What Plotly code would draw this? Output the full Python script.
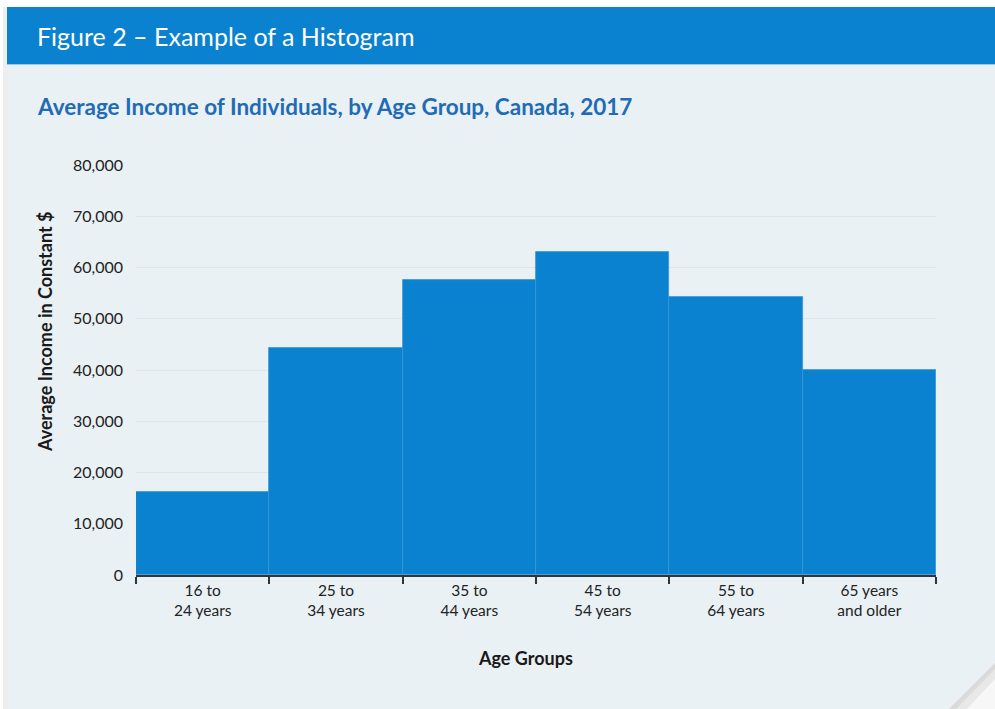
import plotly.graph_objects as go

# ---- data ----
age_groups = ["16 to<br>24 years", "25 to<br>34 years", "35 to<br>44 years",
              "45 to<br>54 years", "55 to<br>64 years", "65 years<br>and older"]
avg_income = [16200, 44200, 57500, 63000, 54300, 40000]
y_ticks = [0, 10000, 20000, 30000, 40000, 50000, 60000, 70000, 80000]

fig_title = "Figure 2 – Example of a Histogram"
chart_title = "Average Income of Individuals, by Age Group, Canada, 2017"
x_title = "Age Groups"
y_title = "Average Income in Constant $"

# ---- layout geometry (pixels) ----
W, H = 995, 709
L, R, T, B = 136, 936, 165, 575  # plot area in px
PW, PH = R - L, B - T


def px(x):
    return (x - L) / PW


def py(y):
    return (B - y) / PH


FONT = "Lato"
BLUE = "#0b82cf"
CARD = "#e9f1f5"

fig = go.Figure()
fig.add_trace(go.Bar(
    x=age_groups, y=avg_income,
    marker=dict(color=BLUE, line=dict(color="#3a95d6", width=0.8)),
    hoverinfo="x+y",
))

shapes = [
    # left shadow strip
    dict(type="rect", xref="paper", yref="paper", x0=px(3), x1=px(7), y0=py(709), y1=py(7),
         fillcolor="#eeeeee", line=dict(width=0), layer="below"),
    # card
    dict(type="rect", xref="paper", yref="paper", x0=px(7), x1=px(996), y0=py(710), y1=py(7),
         fillcolor=CARD, line=dict(width=0), layer="below"),
    # header band
    dict(type="rect", xref="paper", yref="paper", x0=px(7), x1=px(996), y0=py(64), y1=py(7),
         fillcolor=BLUE, line=dict(width=0), layer="below"),
    dict(type="line", xref="paper", yref="paper", x0=px(7), x1=px(996), y0=py(64.5), y1=py(64.5),
         line=dict(color="#9cc9e8", width=1), layer="below"),
    # page curl
    dict(type="path", xref="paper", yref="paper",
         path=f"M {px(948)} {py(710)} L {px(996)} {py(662)} L {px(996)} {py(710)} Z",
         fillcolor="#f7f7f7", line=dict(width=0), layer="above"),
    dict(type="path", xref="paper", yref="paper",
         path=f"M {px(948)} {py(710)} L {px(996)} {py(662)} L {px(996)} {py(678)} L {px(966)} {py(710)} Z",
         fillcolor="#e8e8e8", line=dict(width=0), layer="above"),
    dict(type="path", xref="paper", yref="paper",
         path=f"M {px(948)} {py(710)} L {px(996)} {py(662)} L {px(996)} {py(668)} L {px(955)} {py(710)} Z",
         fillcolor="#dadada", line=dict(width=0), layer="above"),
]

annotations = [
    dict(text=fig_title, xref="paper", yref="paper", x=px(35), y=py(36),
         xanchor="left", yanchor="middle", showarrow=False,
         font=dict(family=FONT, size=25, color="white")),
    dict(text=f"<b>{chart_title}</b>", xref="paper", yref="paper", x=px(35), y=py(106),
         xanchor="left", yanchor="middle", showarrow=False,
         font=dict(family=FONT, size=22.5, color="#1f6cb4")),
    dict(text=f"<b>{y_title}</b>", xref="paper", yref="paper", x=px(45), y=py(332),
         xanchor="center", yanchor="middle", showarrow=False, textangle=-90,
         font=dict(family=FONT, size=18, color="#1a1a1a")),
    dict(text=f"<b>{x_title}</b>", xref="paper", yref="paper", x=px(525), y=py(658),
         xanchor="center", yanchor="middle", showarrow=False,
         font=dict(family=FONT, size=18, color="#1a1a1a")),
]

fig.update_layout(
    width=W, height=H,
    margin=dict(l=L, r=W - R, t=T, b=H - B, pad=0),
    paper_bgcolor="white",
    plot_bgcolor="rgba(0,0,0,0)",
    bargap=0,
    showlegend=False,
    font=dict(family=FONT, size=15, color="#222222"),
    shapes=shapes,
    annotations=annotations,
    xaxis=dict(
        type="category",
        showline=True, linecolor="#333333", linewidth=2,
        ticks="outside", tickson="boundaries", ticklen=7, tickwidth=1.5, tickcolor="#333333",
        showgrid=False, tickfont=dict(family=FONT, size=15.5, color="#222222"),
        fixedrange=True,
    ),
    yaxis=dict(
        range=[0, 80000], tickvals=y_ticks, tickformat=",",
        showgrid=True, gridcolor="#dde6ec", gridwidth=1,
        zeroline=False, showline=False, ticks="",
        ticklabelstandoff=12,
        tickfont=dict(family=FONT, size=16, color="#222222"),
        fixedrange=True,
    ),
)

fig.write_html("out.html")
